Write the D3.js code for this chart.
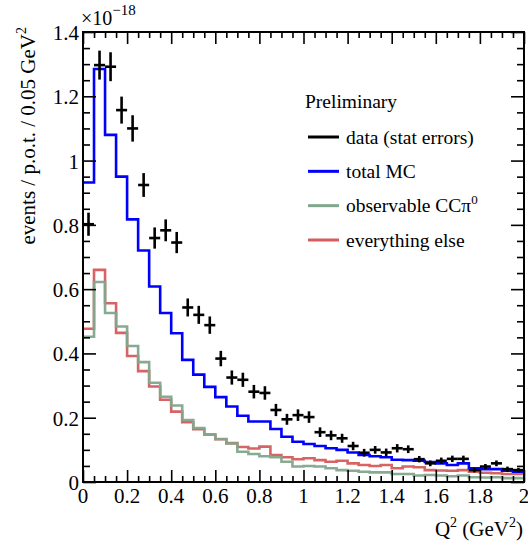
<!DOCTYPE html>
<html><head><meta charset="utf-8">
<script src="https://cdn.jsdelivr.net/npm/d3@7/dist/d3.min.js"></script>
<style>
html,body{margin:0;padding:0;background:#fff;}
svg{display:block;font-family:"Liberation Serif","DejaVu Serif",serif;}
</style></head>
<body><svg id="c" width="528" height="545"></svg>
<script>
// Q^2 bins: 40 bins of 0.05 GeV^2 from 0 to 2
const binWidth = 0.05;
const nBins = 40;
const binLow = d3.range(nBins).map(i => +(i * binWidth).toFixed(2));

// values in units of 1e-18 events / p.o.t. / 0.05 GeV^2
const dataValues = [0.802,1.297,1.292,1.157,1.100,0.924,0.759,0.783,0.745,0.543,
  0.520,0.488,0.384,0.325,0.318,0.281,0.277,0.224,0.195,0.208,
  0.202,0.155,0.145,0.136,0.112,0.091,0.100,0.092,0.105,0.102,
  0.071,0.058,0.066,0.072,0.072,0.037,0.048,0.058,0.040,0.037];
const dataErrors = [0.036,0.045,0.045,0.042,0.041,0.037,0.033,0.034,0.033,0.028,
  0.028,0.027,0.024,0.022,0.022,0.021,0.021,0.019,0.017,0.018,
  0.018,0.015,0.015,0.014,0.013,0.012,0.012,0.012,0.013,0.012,
  0.010,0.009,0.010,0.010,0.010,0.007,0.008,0.009,0.008,0.007];
const totalMC = [0.932,1.285,1.080,0.950,0.817,0.720,0.608,0.526,0.463,0.380,
  0.334,0.296,0.264,0.235,0.206,0.188,0.188,0.165,0.141,0.125,
  0.118,0.112,0.105,0.100,0.092,0.084,0.080,0.077,0.069,0.068,
  0.066,0.062,0.058,0.053,0.058,0.043,0.040,0.040,0.035,0.032];
const observableCCpi0 = [0.452,0.622,0.526,0.484,0.423,0.373,0.309,0.265,0.238,0.193,
  0.168,0.148,0.134,0.120,0.094,0.087,0.080,0.077,0.063,0.048,
  0.050,0.048,0.043,0.037,0.035,0.032,0.030,0.030,0.025,0.025,
  0.020,0.022,0.020,0.018,0.020,0.015,0.014,0.015,0.012,0.012];
const everythingElse = [0.477,0.660,0.556,0.464,0.392,0.345,0.297,0.256,0.219,0.186,
  0.164,0.148,0.133,0.121,0.109,0.104,0.110,0.084,0.077,0.071,
  0.074,0.068,0.063,0.066,0.058,0.053,0.050,0.053,0.043,0.048,
  0.046,0.037,0.036,0.035,0.037,0.032,0.029,0.027,0.025,0.025];

const xTickLabels = ["0","0.2","0.4","0.6","0.8","1","1.2","1.4","1.6","1.8","2"];
const yTickLabels = ["0","0.2","0.4","0.6","0.8","1","1.2","1.4"];
const legendLabels = ["data (stat errors)","total MC","observable CC\u03C0\u2070","everything else"];

const COL = {data:"#000000", mc:"#0000ff", sig:"#80a68c", bkg:"#d45c5c"};

const svg = d3.select("#c");
const L = 83, R = 524, T = 32, B = 482;
const x = d3.scaleLinear().domain([0, 2]).range([L, R]);
const y = d3.scaleLinear().domain([0, 1.4]).range([B, T]);

function histPath(vals) {
  const pts = vals.map((v, i) => [binLow[i], v]);
  pts.push([binLow[nBins - 1] + binWidth, vals[nBins - 1]]);
  return d3.line().x(d => x(d[0])).y(d => y(d[1])).curve(d3.curveStepAfter)(pts);
}

const plot = svg.append("g");
plot.append("path").attr("d", histPath(everythingElse)).attr("fill","none")
  .attr("stroke", COL.bkg).attr("stroke-width", 2.6).attr("stroke-opacity",0.95);
plot.append("path").attr("d", histPath(observableCCpi0)).attr("fill","none")
  .attr("stroke", COL.sig).attr("stroke-width", 2.6).attr("stroke-opacity",0.95);
plot.append("path").attr("d", histPath(totalMC)).attr("fill","none")
  .attr("stroke", COL.mc).attr("stroke-width", 2.6);

// data crosses
const pts = plot.append("g").attr("stroke", COL.data).attr("stroke-width", 2.6);
dataValues.forEach((v, i) => {
  const xc = x(binLow[i] + binWidth / 2);
  pts.append("line").attr("x1", x(binLow[i])).attr("x2", x(binLow[i] + binWidth))
    .attr("y1", y(v)).attr("y2", y(v));
  pts.append("line").attr("x1", xc).attr("x2", xc)
    .attr("y1", y(v - dataErrors[i])).attr("y2", y(v + dataErrors[i]));
});

// axes ticks
const yMajor = yTickLabels.map(Number);
const yMinor = d3.range(0, 1.4001, 0.05).filter(v => !yMajor.some(m => Math.abs(m - v) < 1e-6));
const xMajor = xTickLabels.map(Number);
const xMinor = d3.range(0, 2.0001, 0.05).filter(v => !xMajor.some(m => Math.abs(m - v) < 1e-6));

function tickAxis(axisGen, scale, values, size, transform) {
  const g = svg.append("g").attr("transform", transform)
    .call(axisGen(scale).tickValues(values).tickSize(size).tickFormat(""));
  g.select(".domain").remove();
  g.selectAll(".tick line").attr("stroke", "#000").attr("stroke-width", 1.6);
}
tickAxis(d3.axisLeft, y, yMajor, -13, `translate(${L},0)`);
tickAxis(d3.axisLeft, y, yMinor, -7, `translate(${L},0)`);
tickAxis(d3.axisRight, y, yMajor, -13, `translate(${R},0)`);
tickAxis(d3.axisRight, y, yMinor, -7, `translate(${R},0)`);
tickAxis(d3.axisBottom, x, xMajor, -12, `translate(0,${B})`);
tickAxis(d3.axisBottom, x, xMinor, -6, `translate(0,${B})`);
tickAxis(d3.axisTop, x, xMajor, -12, `translate(0,${T})`);
tickAxis(d3.axisTop, x, xMinor, -6, `translate(0,${T})`);

// frame
svg.append("rect").attr("x", L).attr("y", T).attr("width", R - L).attr("height", B - T)
  .attr("fill", "none").attr("stroke", "#000").attr("stroke-width", 2);

// tick labels
svg.append("g").selectAll("text").data(yTickLabels).join("text")
  .attr("x", L - 4).attr("y", d => y(+d) + 8).attr("text-anchor", "end")
  .attr("font-size", 21).text(d => d);
svg.append("g").selectAll("text").data(xTickLabels).join("text")
  .attr("x", d => x(+d)).attr("y", B + 21).attr("text-anchor", "middle")
  .attr("font-size", 21).text(d => d);

// exponent
const ex = svg.append("text").attr("x", 81).attr("y", 25).attr("font-size", 20);
ex.append("tspan").text("\u00D710");
ex.append("tspan").attr("dy", -10).attr("font-size", 15).text("\u221218");

// axis titles
const xt = svg.append("text").attr("x", 523).attr("y", 536).attr("text-anchor", "end").attr("font-size", 21);
xt.append("tspan").text("Q");
xt.append("tspan").attr("dy", -9).attr("font-size", 14).text("2");
xt.append("tspan").attr("dy", 9).text(" (GeV");
xt.append("tspan").attr("dy", -9).attr("font-size", 14).text("2");
xt.append("tspan").attr("dy", 9).text(")");

const yt = svg.append("text").attr("transform", "translate(35,27) rotate(-90)")
  .attr("text-anchor", "end").attr("font-size", 21);
yt.append("tspan").text("events / p.o.t. / 0.05 GeV");
yt.append("tspan").attr("dy", -9).attr("font-size", 14).text("2");

// legend
svg.append("text").attr("x", 305).attr("y", 108).attr("font-size", 19.5).text("Preliminary");
const legCols = [COL.data, COL.mc, COL.sig, COL.bkg];
const legY = d3.scaleLinear().domain([0, 3]).range([137, 240]);
legendLabels.forEach((lab, i) => {
  const yy = legY(i);
  svg.append("line").attr("x1", 308).attr("x2", 339).attr("y1", yy).attr("y2", yy)
    .attr("stroke", legCols[i]).attr("stroke-width", 3);
  const t = svg.append("text").attr("x", 346).attr("y", yy + 6.5).attr("font-size", 19.5);
  if (i === 2) {
    t.append("tspan").text("observable CC\u03C0");
    t.append("tspan").attr("dy", -8).attr("font-size", 13).text("0");
  } else {
    t.text(lab);
  }
});
</script></body></html>
